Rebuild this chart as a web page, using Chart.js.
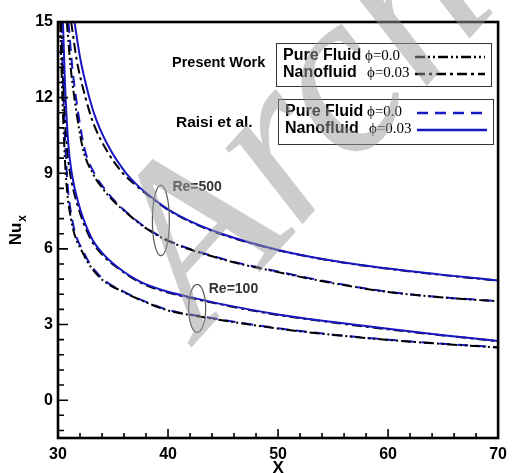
<!DOCTYPE html>
<html>
<head>
<meta charset="utf-8">
<script src="https://cdn.jsdelivr.net/npm/chart.js@4/dist/chart.umd.min.js"></script>
<style>
  html, body { margin: 0; padding: 0; background: #fff; }
  #wrap { width: 514px; height: 473px; }
</style>
</head>
<body>
<div id="wrap"><canvas id="nuChart" width="514" height="473"></canvas></div>
<script>
// Nu_x along the wall, Re=500 and Re=100, present work vs Raisi et al.
const xTicks = [30, 32, 34, 36, 38, 40, 42, 44, 46, 48, 50, 52, 54, 56, 58, 60, 62, 64, 66, 68, 70];
const yTicks = [-1.2, -0.6, 0, 0.6, 1.2, 1.8, 2.4, 3, 3.6, 4.2, 4.8, 5.4, 6, 6.6, 7.2, 7.8, 8.4, 9, 9.6, 10.2, 10.8, 11.4, 12, 12.6, 13.2, 13.8, 14.4, 15];

// Re = 500
const presentPure500X = [30.8, 31.15, 31.55, 32.25, 33.15, 34.05, 35, 36.5, 37.8, 40, 45, 50, 55, 60, 65, 70];
const presentPure500Y = [15, 13.2, 11.8, 10.0, 9.0, 8.4, 7.92, 7.33, 6.88, 6.32, 5.58, 5.08, 4.64, 4.29, 4.07, 3.92];
const raisiPure500X = [30.95, 31.3, 31.7, 32.4, 33.3, 34.2, 35.1, 36.5, 37.8, 40, 45, 50, 55, 60, 65, 70];
const raisiPure500Y = [15, 13.2, 11.8, 10.0, 9.0, 8.4, 7.93, 7.35, 6.9, 6.34, 5.6, 5.1, 4.66, 4.3, 4.08, 3.93];
const presentNano500X = [31.2, 31.7, 32.5, 33.2, 34.5, 35.9, 37, 39, 40, 42, 45, 50, 55, 60, 65, 70];
const presentNano500Y = [15, 13.5, 12.0, 11.0, 9.85, 9.0, 8.55, 7.86, 7.55, 7.08, 6.56, 5.95, 5.52, 5.21, 4.96, 4.74];
const raisiNano500X = [31.5, 32, 32.85, 33.5, 34.8, 36.2, 37.2, 39, 40, 42, 45, 50, 55, 60, 65, 70];
const raisiNano500Y = [15, 13.6, 12.0, 11.1, 9.9, 9.0, 8.53, 7.88, 7.57, 7.1, 6.58, 5.96, 5.53, 5.22, 4.97, 4.75];

// Re = 100
const presentPure100X = [30.2, 30.4, 30.7, 31.15, 32.3, 33.8, 36, 38, 40, 43.4, 50, 55, 60, 65, 70];
const presentPure100Y = [15, 12, 9.0, 7.26, 5.8, 4.87, 4.28, 3.88, 3.56, 3.28, 2.84, 2.59, 2.39, 2.23, 2.09];
const raisiPure100X = [30.3, 30.5, 30.8, 31.25, 32.4, 33.9, 36, 38, 40, 43.4, 50, 55, 60, 65, 70];
const raisiPure100Y = [15, 12, 9.0, 7.26, 5.81, 4.88, 4.3, 3.9, 3.58, 3.3, 2.85, 2.6, 2.4, 2.24, 2.1];
const presentNano100X = [30.3, 30.5, 30.8, 31.1, 31.7, 32.9, 34, 35.4, 37.5, 40, 42.4, 45, 50, 55, 60, 65, 70];
const presentNano100Y = [15, 12.4, 10.1, 9.0, 7.85, 6.45, 5.78, 5.25, 4.66, 4.27, 4.02, 3.78, 3.38, 3.08, 2.81, 2.57, 2.34];
const raisiNano100X = [30.45, 30.65, 30.95, 31.25, 31.8, 33, 34.1, 35.4, 37.5, 40, 42.4, 45, 50, 55, 60, 65, 70];
const raisiNano100Y = [15, 12.4, 10.1, 9.0, 7.9, 6.47, 5.8, 5.28, 4.69, 4.3, 4.05, 3.8, 3.4, 3.1, 2.83, 2.58, 2.35];

const reLabels = ["Re=500", "Re=100"];

const BLUE = "#1717c4";
const styles = {
    presentPure: { color: "#000", dash: [10, 3, 2, 3, 2, 3] },
    presentNano: { color: "#000", dash: [10, 4, 3, 4] },
    raisiPure: { color: BLUE, dash: [11, 7] },
    raisiNano: { color: BLUE, dash: [] }
};

function pts(xs, ys) {
    return xs.map((x, i) => ({ x, y: ys[i] }));
}

function series(label, xs, ys, style, order) {
    return {
        label,
        data: pts(xs, ys),
        borderColor: style.color,
        borderDash: style.dash,
        borderWidth: 2,
        pointRadius: 0,
        fill: false,
        cubicInterpolationMode: "monotone",
        order
    };
}

const datasets = [
    series("Raisi pure 500", raisiPure500X, raisiPure500Y, styles.raisiPure, 4),
    series("Present pure 500", presentPure500X, presentPure500Y, styles.presentPure, 3),
    series("Present nano 500", presentNano500X, presentNano500Y, styles.presentNano, 2),
    series("Raisi nano 500", raisiNano500X, raisiNano500Y, styles.raisiNano, 1),
    series("Raisi pure 100", raisiPure100X, raisiPure100Y, styles.raisiPure, 4),
    series("Present pure 100", presentPure100X, presentPure100Y, styles.presentPure, 3),
    series("Present nano 100", presentNano100X, presentNano100Y, styles.presentNano, 2),
    series("Raisi nano 100", raisiNano100X, raisiNano100Y, styles.raisiNano, 1)
];

// ellipses around the curve pairs, in data units
const marks = [
    { text: reLabels[0], cx: 39.35, cy: 7.13, rx: 0.77, ry: 1.4, tx: 40.4, ty: 8.45 },
    { text: reLabels[1], cx: 42.65, cy: 3.64, rx: 0.77, ry: 0.95, tx: 43.7, ty: 4.4 }
];

const isMajor = (v, step) => Math.abs(v / step - Math.round(v / step)) < 1e-6;

const framePlugin = {
    id: "frame",
    afterDatasetsDraw(chart) {
        const { ctx, chartArea: a, scales: { x, y } } = chart;
        ctx.save();
        ctx.strokeStyle = "#000";
        ctx.lineWidth = 1.6;
        ctx.beginPath();
        xTicks.forEach((v) => {
            const px = x.getPixelForValue(v);
            const len = isMajor(v, 10) ? 9 : 5;
            ctx.moveTo(px, a.bottom);
            ctx.lineTo(px, a.bottom - len);
        });
        yTicks.forEach((v) => {
            const py = y.getPixelForValue(v);
            const len = isMajor(v, 3) ? 10 : 6;
            ctx.moveTo(a.left, py);
            ctx.lineTo(a.left + len, py);
        });
        ctx.stroke();
        ctx.lineWidth = 2.6;
        ctx.strokeRect(a.left, a.top, a.right - a.left, a.bottom - a.top);

        // ellipses + Re labels
        ctx.strokeStyle = "#5a5a5a";
        ctx.lineWidth = 1.2;
        ctx.fillStyle = "#333";
        ctx.font = "bold 14px 'Liberation Sans', Arial, sans-serif";
        ctx.textBaseline = "middle";
        marks.forEach((m) => {
            const cx = x.getPixelForValue(m.cx);
            const cy = y.getPixelForValue(m.cy);
            const rx = Math.abs(x.getPixelForValue(m.cx + m.rx) - cx);
            const ry = Math.abs(y.getPixelForValue(m.cy + m.ry) - cy);
            ctx.beginPath();
            ctx.ellipse(cx, cy, rx, ry, 0, 0, Math.PI * 2);
            ctx.stroke();
            ctx.fillText(m.text, x.getPixelForValue(m.tx), y.getPixelForValue(m.ty));
        });

        // legend boxes
        const ds = chart.data.datasets;
        const boxes = [
            { title: "Present Work", titleFont: "bold 14.5px", tx: 172, ty: 63, x: 276, y: 43, w: 215, h: 43,
              rows: [["Pure Fluid", "\u03D5=0.0", ds[1]], ["Nanofluid", "\u03D5=0.03", ds[2]]] },
            { title: "Raisi et al.", titleFont: "bold 15.5px", tx: 176, ty: 123, x: 278, y: 99, w: 215, h: 45,
              rows: [["Pure Fluid", "\u03D5=0.0", ds[0]], ["Nanofluid", "\u03D5=0.03", ds[3]]] }
        ];
        boxes.forEach((b) => {
            ctx.fillStyle = "#000";
            ctx.textAlign = "left";
            ctx.font = b.titleFont + " 'Liberation Sans', Arial, sans-serif";
            ctx.fillText(b.title, b.tx, b.ty);
            ctx.strokeStyle = "#333";
            ctx.lineWidth = 1;
            ctx.setLineDash([]);
            ctx.strokeRect(b.x + 0.5, b.y + 0.5, b.w, b.h);
            b.rows.forEach((r, i) => {
                const cy = b.y + 13 + i * 17;
                ctx.fillStyle = "#000";
                ctx.font = "bold 16px 'Liberation Sans', Arial, sans-serif";
                ctx.fillText(r[0], b.x + 7, cy);
                ctx.font = "15px 'Liberation Serif', 'Times New Roman', serif";
                ctx.fillText(r[1], b.x + (i === 0 ? 89 : 91), cy);
                ctx.strokeStyle = r[2].borderColor;
                ctx.lineWidth = 2.4;
                ctx.setLineDash(r[2].borderDash);
                ctx.beginPath();
                ctx.moveTo(b.x + 139, cy + 1);
                ctx.lineTo(b.x + 209, cy + 1);
                ctx.stroke();
                ctx.setLineDash([]);
            });
        });

        // axis titles
        ctx.fillStyle = "#000";
        ctx.textAlign = "center";
        ctx.textBaseline = "alphabetic";
        ctx.font = "bold 17px 'Liberation Sans', Arial, sans-serif";
        ctx.fillText("X", (a.left + a.right) / 2, 473);
        ctx.save();
        ctx.translate(21, 230);
        ctx.rotate(-Math.PI / 2);
        ctx.textAlign = "left";
        const nuW = ctx.measureText("Nu").width;
        ctx.fillText("Nu", -nuW / 2 - 4, 0);
        ctx.font = "bold 12px 'Liberation Sans', Arial, sans-serif";
        ctx.fillText("x", nuW / 2 - 3, 5);
        ctx.restore();
        ctx.restore();
    },
    afterDraw(chart) {
        // site watermark
        const { ctx } = chart;
        ctx.save();
        ctx.globalAlpha = 0.5;
        ctx.fillStyle = "#999";
        ctx.translate(200, 338);
        ctx.rotate(-48 * Math.PI / 180);
        ctx.font = "italic 235px 'Liberation Serif', serif";
        ctx.textAlign = "left";
        ctx.textBaseline = "alphabetic";
        ctx.fillText("Archive", 0, 0);
        ctx.restore();
    }
};

new Chart(document.getElementById("nuChart").getContext("2d"), {
    type: "line",
    data: { datasets },
    plugins: [framePlugin],
    options: {
        responsive: false,
        animation: false,
        devicePixelRatio: 1,
        layout: { padding: { top: 22, right: 12, bottom: 0, left: 0 } },
        plugins: { legend: { display: false }, tooltip: { enabled: false } },
        scales: {
            x: {
                type: "linear",
                min: 30,
                max: 70,
                afterBuildTicks: (s) => { s.ticks = xTicks.map((v) => ({ value: v })); },
                afterFit: (s) => { s.height = 35; },
                grid: { display: false, drawTicks: false },
                border: { display: false },
                ticks: {
                    autoSkip: false,
                    maxRotation: 0,
                    padding: 7,
                    color: "#000",
                    font: { family: "'Liberation Sans', Arial, sans-serif", size: 16, weight: "bold" },
                    callback: (v) => (isMajor(v, 10) ? String(v) : "")
                }
            },
            y: {
                type: "linear",
                min: -1.5,
                max: 15,
                afterBuildTicks: (s) => { s.ticks = yTicks.map((v) => ({ value: v })); },
                afterFit: (s) => { s.width = 58; },
                grid: { display: false, drawTicks: false },
                border: { display: false },
                ticks: {
                    autoSkip: false,
                    padding: 5,
                    color: "#000",
                    font: { family: "'Liberation Sans', Arial, sans-serif", size: 16, weight: "bold" },
                    callback: (v) => (isMajor(v, 3) ? String(Math.round(v)) : "")
                }
            }
        }
    }
});
</script>
</body>
</html>
